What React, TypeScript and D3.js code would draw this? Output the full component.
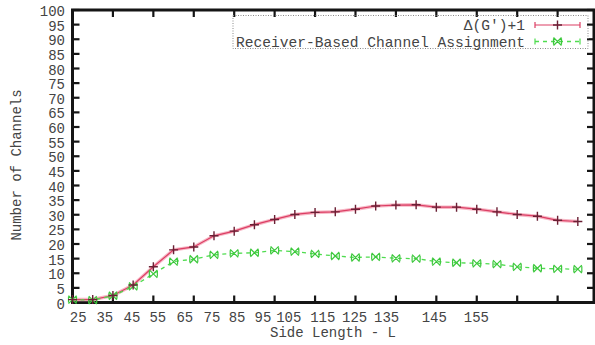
import { useEffect, useRef } from "react";
import { select, scaleLinear, line, range } from "d3";

// side length L of each run
const sideLength = [
    25, 30, 35, 40, 45, 50, 55, 60, 65, 70, 75, 80, 85, 90, 95, 100, 105, 110,
    115, 120, 125, 130, 135, 140, 145, 150,
];
const deltaPlusOne = [
    1, 1, 2.4, 6, 12.2, 18, 19, 22.8, 24.4, 26.6, 28.4, 30.1, 30.8, 31, 31.9,
    33, 33.3, 33.4, 32.6, 32.6, 31.9, 31, 30.1, 29.5, 28.1, 27.7,
];
const receiverBased = [
    1, 0.8, 2.3, 5.5, 9.8, 14, 14.8, 16.3, 16.8, 17, 17.8, 17.4, 16.6, 15.9,
    15.4, 15.6, 15.1, 15, 14, 13.6, 13.4, 13.1, 12.2, 11.7, 11.5, 11.4,
];
const xTickValues = [25, 35, 45, 55, 65, 75, 85, 95, 105, 115, 125, 135, 145];
const xLabels = ["25", "35", "45", "55", "65", "75", "85", "95", "105", "115", "125", "135", "145", "155"];
// where the (shifted) labels sit along the L axis in the original figure
const xLabelAt = [26.4, 33, 39.7, 46.1, 52.8, 59.5, 65.7, 72.1, 78.5, 86.9, 94.8, 102.7, 114.5, 124.9];
const yTickValues = range(0, 101, 5);
const seriesNames = ["\u0394(G\u2032)+1", "Receiver-Based Channel Assignment"];

const FONT = "'Liberation Mono', 'DejaVu Sans Mono', monospace";
const TEXT = "#444";

function ChannelChart() {
    const svgRef = useRef<SVGSVGElement>(null);

    useEffect(() => {
        const Width = 595;
        const Height = 345;
        const Margin = { top: 10, right: 1, bottom: 42.5, left: 72.5 };
        const svg = select(svgRef.current);
        svg.selectAll("*").remove();

        const xScale = scaleLinear().domain([25, 154]).range([Margin.left, Width - Margin.right]);
        const yScale = scaleLinear().domain([0, 100]).range([Height - Margin.bottom, Margin.top]);
        const x0 = xScale.range()[0];
        const x1 = xScale.range()[1];
        const y0 = yScale.range()[0];
        const y1 = yScale.range()[1];
        const tickLen = 7;

        const axes = svg.append("g").attr("stroke", "#151515");

        // ticks, all pointing inward
        axes.selectAll(".yTickL")
            .data(yTickValues)
            .join("line")
            .attr("x1", x0).attr("x2", x0 + tickLen)
            .attr("y1", (d) => yScale(d)).attr("y2", (d) => yScale(d))
            .attr("stroke-width", 2.2);
        axes.selectAll(".yTickR")
            .data(yTickValues)
            .join("line")
            .attr("x1", x1).attr("x2", x1 - tickLen)
            .attr("y1", (d) => yScale(d)).attr("y2", (d) => yScale(d))
            .attr("stroke-width", 2.2);
        axes.selectAll(".xTickB")
            .data(xTickValues)
            .join("line")
            .attr("x1", (d) => xScale(d)).attr("x2", (d) => xScale(d))
            .attr("y1", y0).attr("y2", y0 - tickLen)
            .attr("stroke-width", 2.2);
        axes.selectAll(".xTickT")
            .data(xTickValues)
            .join("line")
            .attr("x1", (d) => xScale(d)).attr("x2", (d) => xScale(d))
            .attr("y1", y1).attr("y2", y1 + tickLen)
            .attr("stroke-width", 2.2);

        // frame
        axes.append("rect")
            .attr("x", x0).attr("y", y1)
            .attr("width", x1 - x0).attr("height", y0 - y1)
            .attr("fill", "none")
            .attr("stroke-width", 3);

        // tick labels
        svg.append("g")
            .selectAll("text")
            .data(yTickValues)
            .join("text")
            .attr("x", 65)
            .attr("y", (d) => yScale(d) + 6)
            .attr("text-anchor", "end")
            .style("font-family", FONT)
            .style("font-size", "14px")
            .style("fill", TEXT)
            .text((d) => d);

        svg.append("g")
            .selectAll("text")
            .data(xLabels)
            .join("text")
            .attr("x", (d, i) => xScale(xLabelAt[i]))
            .attr("y", 322)
            .attr("text-anchor", "middle")
            .style("font-family", FONT)
            .style("font-size", "14px")
            .style("fill", TEXT)
            .text((d) => d);

        // axis titles
        svg.append("text")
            .attr("x", 333).attr("y", 337)
            .attr("text-anchor", "middle")
            .style("font-family", FONT)
            .style("font-size", "14px")
            .style("fill", TEXT)
            .text("Side Length - L");
        svg.append("text")
            .attr("transform", "translate(21, 165) rotate(-90)")
            .attr("text-anchor", "middle")
            .style("font-family", FONT)
            .style("font-size", "14px")
            .style("fill", TEXT)
            .text("Number of Channels");

        // series
        const myLine = line<number>()
            .x((d, i) => xScale(sideLength[i]))
            .y((d) => yScale(d));

        const plot = svg.append("g");

        plot.append("path")
            .attr("d", myLine(deltaPlusOne))
            .attr("fill", "none")
            .attr("stroke", "#f7b8c6")
            .attr("stroke-width", 3.5);
        plot.append("path")
            .attr("d", myLine(deltaPlusOne))
            .attr("fill", "none")
            .attr("stroke", "#dc3e64")
            .attr("stroke-width", 1.2);

        plot.append("path")
            .attr("d", myLine(receiverBased))
            .attr("fill", "none")
            .attr("stroke", "#4fdc4f")
            .attr("stroke-width", 1.3)
            .attr("stroke-dasharray", "4,4");

        const plus = (g, cx, cy, s) => {
            g.append("path")
                .attr("d", `M${cx - s},${cy}H${cx + s}M${cx},${cy - s}V${cy + s}`)
                .attr("stroke", "#6a2035")
                .attr("stroke-width", 1.4)
                .attr("fill", "none");
        };
        const cross = (g, cx, cy, s) => {
            g.append("path")
                .attr("d", `M${cx - s},${cy - s}L${cx + s},${cy + s}M${cx - s},${cy + s}L${cx + s},${cy - s}M${cx - s},${cy - s + 1}V${cy + s - 1}M${cx + s},${cy - s + 1}V${cy + s - 1}`)
                .attr("stroke", "#3cc83c")
                .attr("stroke-width", 1.2)
                .attr("fill", "none");
        };

        receiverBased.forEach((v, i) => cross(plot, xScale(sideLength[i]), yScale(v), 4));
        deltaPlusOne.forEach((v, i) => plus(plot, xScale(sideLength[i]), yScale(v), 4.5));

        // legend
        const legend = svg.append("g");
        legend.append("rect")
            .attr("x", 233).attr("y", 15.5)
            .attr("width", 355).attr("height", 33)
            .attr("fill", "none")
            .attr("stroke", "#8a8a8a")
            .attr("stroke-width", 1)
            .attr("stroke-dasharray", "1,1.5");

        const rowY = [25, 41.5];
        legend.selectAll("text")
            .data(seriesNames)
            .join("text")
            .attr("x", 525)
            .attr("y", (d, i) => rowY[i] + 5)
            .attr("text-anchor", "end")
            .style("font-family", FONT)
            .style("font-size", "14.6px")
            .style("fill", TEXT)
            .text((d) => d);

        const sx0 = 535;
        const sx1 = 580;
        const sm = (sx0 + sx1) / 2;
        legend.append("path")
            .attr("d", `M${sx0},${rowY[0]}H${sx1}M${sx0},${rowY[0] - 3}V${rowY[0] + 3}M${sx1},${rowY[0] - 3}V${rowY[0] + 3}`)
            .attr("stroke", "#dc3e64")
            .attr("stroke-width", 1.2)
            .attr("fill", "none");
        plus(legend, sm, rowY[0], 4.5);
        legend.append("path")
            .attr("d", `M${sx0},${rowY[1]}H${sx1}`)
            .attr("stroke", "#4fdc4f")
            .attr("stroke-width", 1.3)
            .attr("stroke-dasharray", "4,4")
            .attr("fill", "none");
        legend.append("path")
            .attr("d", `M${sx0},${rowY[1] - 3}V${rowY[1] + 3}M${sx1},${rowY[1] - 3}V${rowY[1] + 3}`)
            .attr("stroke", "#4fdc4f")
            .attr("stroke-width", 1.2);
        cross(legend, sm, rowY[1], 4);
    }, []);

    return (
        <svg
            ref={svgRef}
            width={595}
            height={345}
            style={{ position: "absolute", left: 0, top: 0, background: "#fff" }}
        ></svg>
    );
}

export default function App() {
    return <ChannelChart />;
}
